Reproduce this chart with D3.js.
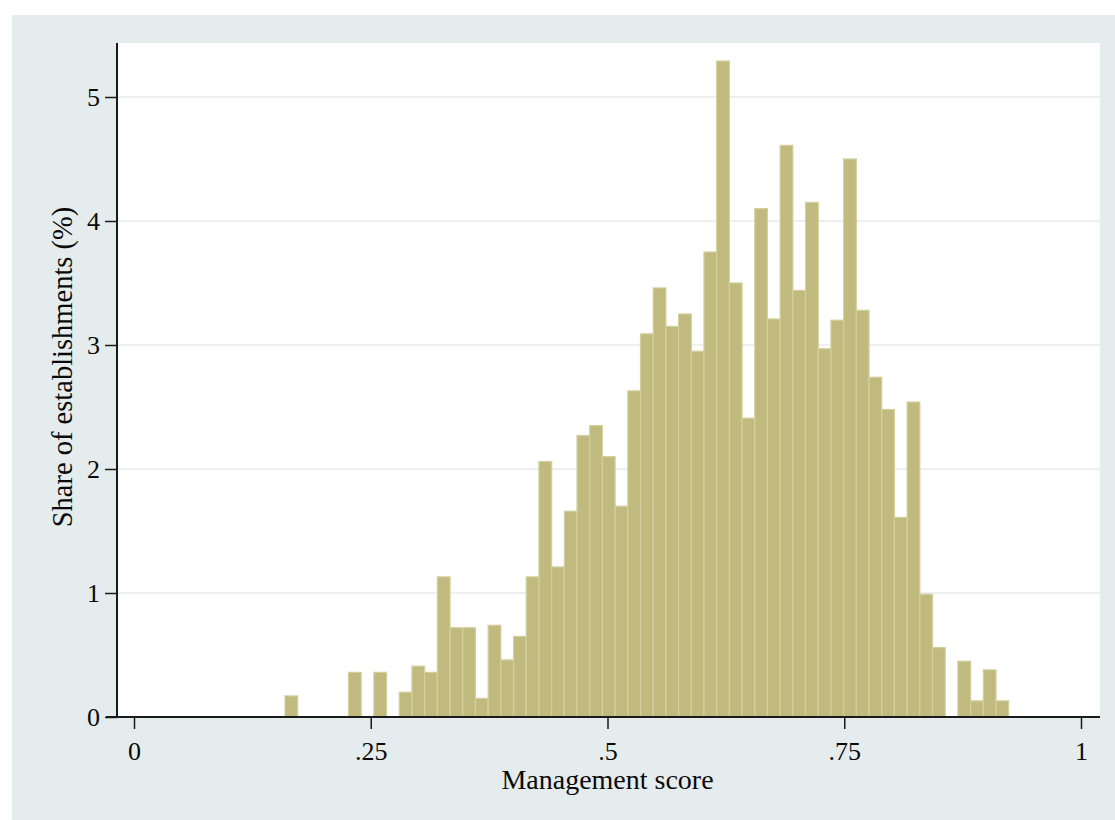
<!DOCTYPE html>
<html>
<head>
<meta charset="utf-8">
<script src="https://cdn.jsdelivr.net/npm/d3@7"></script>
<style>
  html, body { margin: 0; padding: 0; background: #ffffff; }
  svg { display: block; }
  text { font-family: "Liberation Serif", "Times New Roman", serif; fill: #0a0a0a; }
</style>
</head>
<body>
<svg id="chart" width="1115" height="820"></svg>
<script>
// ---- data ----
const binStart = 0.15945;          // left edge of first bin (management score)
const binWidth = 0.013407;         // bin width
const shares = [
  0.17, 0, 0, 0, 0, 0.36, 0, 0.36, 0, 0.20,
  0.41, 0.36, 1.13, 0.72, 0.72, 0.15, 0.74, 0.46, 0.65, 1.13,
  2.06, 1.21, 1.66, 2.27, 2.35, 2.10, 1.70, 2.63, 3.09, 3.46,
  3.15, 3.25, 2.95, 3.75, 5.29, 3.50, 2.41, 4.10, 3.21, 4.61,
  3.44, 4.15, 2.97, 3.20, 4.50, 3.28, 2.74, 2.48, 1.61, 2.54,
  0.99, 0.56, 0, 0.45, 0.13, 0.38, 0.13
];
const xTicks = [0, 0.25, 0.5, 0.75, 1];
const xTickLabels = ["0", ".25", ".5", ".75", "1"];
const yTicks = [0, 1, 2, 3, 4, 5];
const xTitle = "Management score";
const yTitle = "Share of establishments (%)";

// ---- layout ----
const svg = d3.select("#chart");
const x = d3.scaleLinear().domain([0, 1]).range([134, 1081]);
const y = d3.scaleLinear().domain([0, 5]).range([717, 97]);
const plotLeft = 117, plotRight = 1100, plotTop = 43, plotBottom = 717;

// outer background
svg.append("rect").attr("x", 12).attr("y", 15).attr("width", 1115 - 12).attr("height", 820 - 15)
  .attr("fill", "#e5eced");
// plot area
svg.append("rect").attr("x", plotLeft).attr("y", plotTop)
  .attr("width", plotRight - plotLeft).attr("height", plotBottom - plotTop)
  .attr("fill", "#ffffff");

// gridlines
svg.append("g").selectAll("line").data(yTicks.filter(d => d > 0)).join("line")
  .attr("x1", plotLeft).attr("x2", plotRight)
  .attr("y1", d => y(d)).attr("y2", d => y(d))
  .attr("stroke", "#e8eaea").attr("stroke-width", 1.3);

// bars
const bins = shares.map((v, i) => ({ x0: binStart + i * binWidth, x1: binStart + (i + 1) * binWidth, v }));
svg.append("g").selectAll("rect").data(bins.filter(d => d.v > 0)).join("rect")
  .attr("x", d => x(d.x0))
  .attr("width", d => x(d.x1) - x(d.x0))
  .attr("y", d => y(d.v))
  .attr("height", d => y(0) - y(d.v))
  .attr("fill", "#c0ba7e")
  .attr("stroke", "#d3cf9e")
  .attr("stroke-width", 1.2);

// y axis
const yAxis = d3.axisLeft(y).tickValues(yTicks).tickSize(12).tickPadding(5).tickFormat(d3.format("d"));
const gy = svg.append("g").attr("transform", `translate(${plotLeft},0)`).call(yAxis);
gy.select(".domain").remove();
gy.append("line").attr("x1", 0).attr("x2", 0).attr("y1", plotTop).attr("y2", plotBottom + 1)
  .attr("stroke", "#1a1a1a").attr("stroke-width", 2);
gy.selectAll(".tick line").attr("stroke", "#1a1a1a").attr("stroke-width", 1.5);
gy.selectAll(".tick text").style("font-size", "26px").style("font-family", "Liberation Serif")
  .attr("fill", "#0a0a0a").attr("dy", "0.34em");

// x axis
const xAxis = d3.axisBottom(x).tickValues(xTicks).tickSize(12).tickPadding(13)
  .tickFormat((d, i) => xTickLabels[i]);
const gx = svg.append("g").attr("transform", `translate(0,${plotBottom})`).call(xAxis);
gx.select(".domain").remove();
gx.append("line").attr("x1", 106).attr("x2", plotRight).attr("y1", 0).attr("y2", 0)
  .attr("stroke", "#1a1a1a").attr("stroke-width", 2);
gx.selectAll(".tick line").attr("stroke", "#1a1a1a").attr("stroke-width", 1.5);
gx.selectAll(".tick text").style("font-size", "26px").style("font-family", "Liberation Serif")
  .attr("fill", "#0a0a0a");

// titles
svg.append("text").attr("x", x(0.5)).attr("y", 789).attr("text-anchor", "middle")
  .style("font-size", "28px").text(xTitle);
svg.append("text").attr("transform", `translate(72,${367}) rotate(-90)`).attr("text-anchor", "middle")
  .style("font-size", "28.5px").text(yTitle);
</script>
</body>
</html>
